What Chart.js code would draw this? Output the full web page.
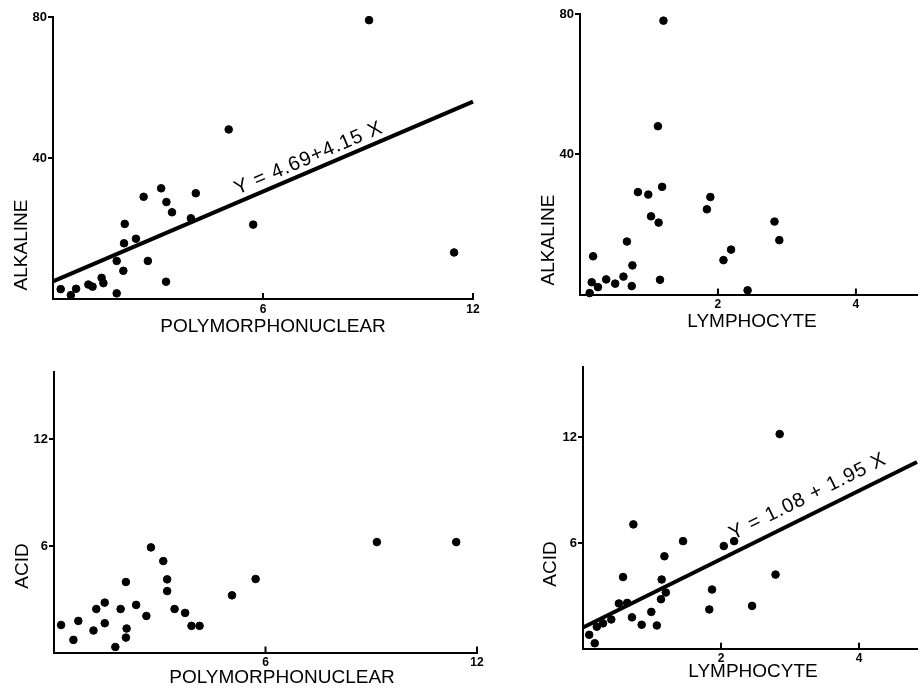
<html>
    <head>
        <meta http-equiv="content-type" content="text/html; charset=UTF-8">
        <script src="https://cdn.jsdelivr.net/npm/chart.js"></script>
        <title>Phosphatase vs leukocyte counts</title>
        <style>
            body { margin: 0; background: #fff; }
            canvas { position: absolute; }
        </style>
    </head>
    <body>
        <canvas id="c1" width="500" height="345" style="left:0;top:0"></canvas>
        <canvas id="c2" width="382" height="345" style="left:540px;top:0"></canvas>
        <canvas id="c3" width="500" height="338" style="left:0;top:350px"></canvas>
        <canvas id="c4" width="382" height="338" style="left:540px;top:350px"></canvas>

        <script>
            // panel 1: alkaline vs polymorphonuclear
            const polyAlkX = [0.22, 0.51, 0.66, 1.01, 1.13, 1.39, 1.44, 1.82, 1.82, 2.01, 2.03, 2.05, 2.37, 2.59, 2.71,
                              3.09, 3.24, 3.40, 3.23, 3.94, 4.08, 5.02, 5.72, 9.03, 11.46];
            const polyAlkY = [2.8, 1.1, 2.9, 4.1, 3.5, 6.0, 4.5, 1.6, 10.8, 8.0, 15.8, 21.3, 17.1, 29.0, 10.8,
                              31.4, 27.5, 24.6, 4.9, 22.9, 30.0, 48.1, 21.1, 79.1, 13.2];
            const polyAlkLineX = [0, 12];
            const polyAlkLineY = [5.0, 56.0];

            // panel 2: alkaline vs lymphocyte
            const lymAlkX = [1.21, 1.13, 1.19, 0.84, 0.99, 1.89, 1.84, 1.03, 1.14, 2.82, 2.89, 0.68, 0.19, 2.19, 2.08,
                             0.76, 0.17, 0.26, 0.38, 0.51, 0.63, 0.75, 1.16, 0.14, 2.43];
            const lymAlkY = [78.1, 48.0, 30.7, 29.2, 28.5, 27.8, 24.3, 22.3, 20.5, 20.8, 15.5, 15.1, 10.9, 12.8, 9.8,
                             8.3, 3.5, 2.1, 4.3, 3.1, 5.1, 2.4, 4.2, 0.4, 1.2];

            // panel 3: acid vs polymorphonuclear
            const polyAcidX = [0.20, 0.55, 0.69, 1.12, 1.20, 1.44, 1.44, 1.74, 1.89, 2.04, 2.06, 2.04, 2.33, 2.62, 2.75,
                               3.10, 3.21, 3.21, 3.42, 3.72, 3.90, 4.13, 5.05, 5.72, 9.16, 11.41];
            const polyAcidY = [1.55, 0.71, 1.78, 1.24, 2.45, 2.81, 1.65, 0.31, 2.45, 3.97, 1.35, 0.84, 2.68, 2.06, 5.92,
                               5.15, 4.12, 3.46, 2.45, 2.23, 1.50, 1.50, 3.22, 4.14, 6.22, 6.22];

            // panel 4: acid vs lymphocyte
            const lymAcidX = [2.85, 0.73, 1.45, 2.19, 2.04, 1.18, 0.58, 1.14, 2.79, 1.87, 1.20, 1.13, 0.64, 0.52, 0.99,
                              1.83, 2.45, 0.71, 0.85, 1.07, 0.41, 0.29, 0.20, 0.09, 0.17];
            const lymAcidY = [12.19, 7.06, 6.11, 6.11, 5.83, 5.25, 4.07, 3.93, 4.21, 3.36, 3.19, 2.81, 2.60, 2.57, 2.09,
                              2.23, 2.43, 1.78, 1.36, 1.32, 1.66, 1.44, 1.25, 0.79, 0.31];
            const lymAcidLineX = [0, 4.84];
            const lymAcidLineY = [1.2, 10.6];

            const polyTicks = [6, 12];
            const lymTicks = [2, 4];
            const alkTicks = [40, 80];
            const acidTicks = [6, 12];

            const FONT = '"Liberation Sans", Arial, sans-serif';

            function pts(xs, ys) {
                return xs.map((x, i) => ({ x: x, y: ys[i] }));
            }

            // inward x ticks, axis titles and the equation written along the line
            const paperPlugin = {
                id: 'paper',
                afterDraw(chart, args, opts) {
                    const ctx = chart.ctx;
                    const xs = chart.scales.x;
                    ctx.save();
                    ctx.strokeStyle = '#000';
                    ctx.lineWidth = 2;
                    xs.ticks.forEach(t => {
                        const px = xs.getPixelForValue(t.value);
                        ctx.beginPath();
                        ctx.moveTo(px, xs.top);
                        ctx.lineTo(px, xs.top - 6);
                        ctx.stroke();
                    });

                    ctx.fillStyle = '#000';
                    ctx.font = '19px ' + FONT;
                    ctx.textAlign = 'center';
                    ctx.textBaseline = 'middle';
                    ctx.fillText(opts.xTitle, opts.xTitlePos[0], opts.xTitlePos[1]);
                    ctx.save();
                    ctx.translate(opts.yTitlePos[0], opts.yTitlePos[1]);
                    ctx.rotate(-Math.PI / 2);
                    ctx.fillText(opts.yTitle, 0, 0);
                    ctx.restore();

                    if (opts.equation) {
                        const meta = chart.getDatasetMeta(1);
                        const p0 = meta.data[0], p1 = meta.data[1];
                        const ang = Math.atan2(p1.y - p0.y, p1.x - p0.x);
                        const sx = xs.getPixelForValue(opts.eqX);
                        const sy = p0.y + (sx - p0.x) * Math.tan(ang);
                        ctx.translate(sx, sy);
                        ctx.rotate(ang);
                        ctx.font = '20px ' + FONT;
                        ctx.letterSpacing = '1px';
                        ctx.textAlign = 'left';
                        ctx.textBaseline = 'alphabetic';
                        ctx.fillText(opts.equation, 0, -opts.eqGap);
                    }
                    ctx.restore();
                }
            };

            function makeChart(id, cfg) {
                const datasets = [{
                    data: pts(cfg.xs, cfg.ys),
                    backgroundColor: '#000',
                    borderColor: '#000',
                    pointRadius: 3.8,
                    clip: false
                }];
                if (cfg.lineX) {
                    datasets.push({
                        type: 'line',
                        data: pts(cfg.lineX, cfg.lineY),
                        borderColor: '#000',
                        borderWidth: 4,
                        pointRadius: 0,
                        clip: false
                    });
                }
                return new Chart(document.getElementById(id), {
                    type: 'scatter',
                    data: { datasets: datasets },
                    options: {
                        responsive: false,
                        animation: false,
                        devicePixelRatio: 1,
                        layout: { padding: { top: cfg.top, right: cfg.right, left: 0, bottom: 0 } },
                        plugins: {
                            legend: { display: false },
                            tooltip: { enabled: false },
                            paper: cfg.paper
                        },
                        scales: {
                            x: {
                                type: 'linear',
                                min: 0,
                                max: cfg.xMax,
                                grid: { display: false, drawTicks: false },
                                border: { display: true, color: '#000', width: 2 },
                                ticks: { color: '#000', padding: 3, font: { family: FONT, size: 12, weight: 'bold' } },
                                afterBuildTicks: s => { s.ticks = cfg.xTicks.map(v => ({ value: v })); },
                                afterFit: s => { s.height = cfg.xH; }
                            },
                            y: {
                                type: 'linear',
                                min: 0,
                                max: cfg.yMax,
                                grid: { display: true, drawOnChartArea: false, drawTicks: true, tickLength: 5, color: '#000', lineWidth: 2 },
                                border: { display: true, color: '#000', width: 2 },
                                ticks: { color: '#000', padding: 1, font: { family: FONT, size: 13, weight: 'bold' } },
                                afterBuildTicks: s => { s.ticks = cfg.yTicks.map(v => ({ value: v })); },
                                afterFit: s => { s.width = cfg.yW; }
                            }
                        }
                    },
                    plugins: [paperPlugin]
                });
            }

            makeChart('c1', {
                xs: polyAlkX, ys: polyAlkY, lineX: polyAlkLineX, lineY: polyAlkLineY,
                xMax: 12, yMax: 80, xTicks: polyTicks, yTicks: alkTicks,
                top: 17, right: 27, yW: 53, xH: 46,
                paper: { xTitle: 'POLYMORPHONUCLEAR', xTitlePos: [273, 327], yTitle: 'ALKALINE', yTitlePos: [22, 245],
                         equation: 'Y = 4.69+4.15 X', eqX: 5.35, eqGap: 7 }
            });

            makeChart('c2', {
                xs: lymAlkX, ys: lymAlkY,
                xMax: 4.886, yMax: 80, xTicks: lymTicks, yTicks: alkTicks,
                top: 14, right: 0, yW: 40, xH: 50.5,
                paper: { xTitle: 'LYMPHOCYTE', xTitlePos: [212, 322], yTitle: 'ALKALINE', yTitlePos: [9, 240] }
            });

            makeChart('c3', {
                xs: polyAcidX, ys: polyAcidY,
                xMax: 12, yMax: 15.8, xTicks: polyTicks, yTicks: acidTicks,
                top: 22, right: 23, yW: 54, xH: 35.5,
                paper: { xTitle: 'POLYMORPHONUCLEAR', xTitlePos: [282, 328], yTitle: 'ACID', yTitlePos: [23, 216] }
            });

            makeChart('c4', {
                xs: lymAcidX, ys: lymAcidY, lineX: lymAcidLineX, lineY: lymAcidLineY,
                xMax: 4.84, yMax: 16, xTicks: lymTicks, yTicks: acidTicks,
                top: 17, right: 0, yW: 43, xH: 39.3,
                paper: { xTitle: 'LYMPHOCYTE', xTitlePos: [213, 322], yTitle: 'ACID', yTitlePos: [11, 214],
                         equation: 'Y = 1.08 + 1.95 X', eqX: 2.25, eqGap: 12 }
            });
        </script>
    </body>
</html>
